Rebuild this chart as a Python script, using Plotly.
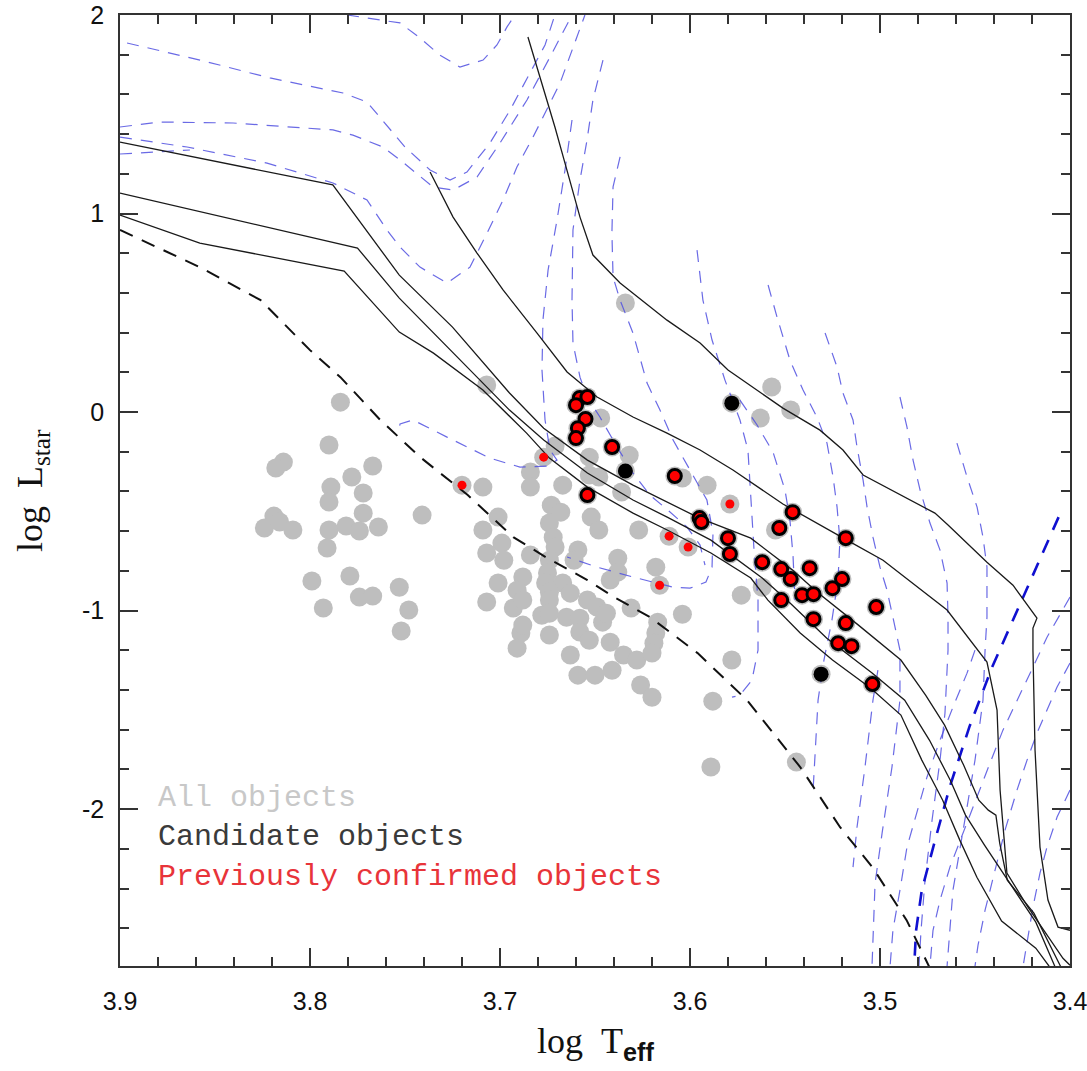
import plotly.graph_objects as go

# ---------------- data (log Teff, log L) ----------------
gray_x = [3.784, 3.790, 3.814, 3.818, 3.767, 3.778, 3.789, 3.772, 3.790, 3.772, 3.819, 3.824, 3.816, 3.809,
          3.790, 3.781, 3.774, 3.764, 3.791, 3.799, 3.779, 3.774, 3.767, 3.793, 3.753, 3.748, 3.752, 3.741,
          3.707, 3.709, 3.671, 3.684, 3.684, 3.701, 3.709, 3.699, 3.707, 3.698, 3.684, 3.688, 3.691, 3.701,
          3.707, 3.693, 3.688, 3.689, 3.691, 3.688,
          3.667, 3.653, 3.653, 3.648, 3.647, 3.673, 3.668, 3.674, 3.672, 3.671, 3.674, 3.675, 3.676, 3.667,
          3.663, 3.674, 3.674, 3.678, 3.674, 3.665, 3.658, 3.646, 3.654, 3.649, 3.644, 3.674, 3.658, 3.653,
          3.642, 3.663, 3.659, 3.650, 3.641, 3.652, 3.648, 3.659, 3.661, 3.638, 3.638, 3.642, 3.636, 3.627,
          3.618, 3.631, 3.617, 3.618, 3.619, 3.635, 3.628, 3.620, 3.626, 3.620, 3.604,
          3.634, 3.632, 3.604, 3.591, 3.557, 3.563, 3.547, 3.573, 3.562, 3.555, 3.578, 3.588, 3.589, 3.544]
gray_y = [0.050, -0.166, -0.252, -0.282, -0.272, -0.327, -0.378, -0.408, -0.453, -0.509, -0.524, -0.584, -0.554, -0.594,
          -0.594, -0.574, -0.599, -0.579, -0.685, -0.851, -0.826, -0.932, -0.927, -0.987, -0.882, -0.997, -1.103, -0.519,
          0.136, -0.378, -0.171, -0.302, -0.378, -0.529, -0.594, -0.660, -0.710, -0.746, -0.720, -0.831, -0.897, -0.861,
          -0.957, -0.987, -0.947, -1.113, -1.189, -1.073,
          -0.368, -0.227, -0.317, -0.327, -0.030, -0.469, -0.504, -0.559, -0.630, -0.680, -0.746, -0.811, -0.861, -0.861,
          -0.912, -0.907, -0.947, -1.023, -1.013, -1.033, -1.038, -1.058, -0.947, -0.982, -1.013, -1.123, -1.108, -1.149,
          -1.159, -1.224, -1.325, -1.325, -1.300, -0.529, -0.594, -0.695, -0.746, -0.736, -0.806, -0.846, -0.403, -0.594,
          -0.781, -0.987, -1.058, -1.113, -1.164, -1.224, -1.249, -1.214, -1.375, -1.436, -1.018,
          0.549, -0.217, -0.332, -0.368, 0.126, -0.030, 0.010, -0.922, -0.882, -0.594, -1.249, -1.456, -1.788, -1.763]

both_x = [3.658, 3.654, 3.660, 3.655, 3.659, 3.660, 3.641, 3.608, 3.654, 3.595, 3.594, 3.546, 3.553, 3.580,
          3.579, 3.518, 3.562, 3.552, 3.547, 3.537, 3.520, 3.525, 3.541, 3.535, 3.552, 3.502, 3.535, 3.518,
          3.522, 3.515, 3.504]
both_y = [0.071, 0.076, 0.035, -0.035, -0.081, -0.131, -0.176, -0.322, -0.418, -0.534, -0.554, -0.504, -0.584, -0.635,
          -0.715, -0.635, -0.756, -0.791, -0.841, -0.786, -0.841, -0.887, -0.922, -0.917, -0.947, -0.982, -1.043, -1.063,
          -1.164, -1.179, -1.370]

cand_x = [3.634, 3.578, 3.531]
cand_y = [-0.297, 0.045, -1.320]

conf_x = [3.677, 3.720, 3.579, 3.611, 3.601, 3.616]
conf_y = [-0.227, -0.368, -0.463, -0.625, -0.680, -0.872]

# isochrones (solid)
isoA_x = [3.6853, 3.6805, 3.6711, 3.6658, 3.6579, 3.6511, 3.6368, 3.6121, 3.5947, 3.5800, 3.5511, 3.5316, 3.5195,
          3.5089, 3.4711, 3.4642, 3.4437, 3.4300, 3.4174, 3.4195, 3.4195, 3.4184, 3.4158, 3.4116, 3.4063, 3.400]
isoA_y = [1.889, 1.738, 1.436, 1.254, 0.982, 0.791, 0.650, 0.463, 0.348, 0.212, 0.020, -0.091, -0.191,
          -0.317, -0.509, -0.569, -0.756, -0.872, -1.038, -1.088, -1.199, -1.703, -2.191, -2.458, -2.594, -2.610]
isoB_x = [3.7368, 3.7247, 3.7121, 3.6984, 3.6805, 3.6647, 3.6489, 3.6300, 3.6121, 3.5947, 3.5774, 3.5511, 3.5174,
          3.4984, 3.4647, 3.4437, 3.4384, 3.4368, 3.4332, 3.4221, 3.4037, 3.400]
isoB_y = [1.209, 0.982, 0.801, 0.615, 0.398, 0.202, 0.076, -0.025, -0.106, -0.191, -0.292, -0.463, -0.645,
          -0.746, -0.997, -1.259, -1.501, -1.904, -2.322, -2.494, -2.751, -2.786]
isoC_x = [3.900, 3.788, 3.753, 3.725, 3.695, 3.677, 3.654, 3.630, 3.595, 3.568, 3.546, 3.533, 3.512, 3.489,
          3.476, 3.466, 3.456, 3.448, 3.443, 3.439, 3.437, 3.433, 3.419, 3.405]
isoC_y = [1.360, 1.144, 0.690, 0.428, 0.096, -0.081, -0.242, -0.368, -0.534, -0.635, -0.796, -0.907, -1.068, -1.249,
          -1.426, -1.577, -1.778, -1.955, -2.005, -2.030, -2.171, -2.358, -2.524, -2.791]
isoD_x = [3.900, 3.775, 3.753, 3.735, 3.717, 3.695, 3.677, 3.654, 3.630, 3.612, 3.589, 3.579, 3.562, 3.549,
          3.528, 3.504, 3.487, 3.474, 3.463, 3.455, 3.445, 3.431, 3.418, 3.408]
isoD_y = [1.103, 0.826, 0.574, 0.398, 0.227, 0.010, -0.141, -0.307, -0.443, -0.529, -0.645, -0.715, -0.836, -0.947,
          -1.139, -1.315, -1.451, -1.652, -1.854, -2.030, -2.181, -2.383, -2.569, -2.791]
isoE_x = [3.900, 3.858, 3.782, 3.753, 3.735, 3.709, 3.686, 3.674, 3.654, 3.630, 3.612, 3.589, 3.568, 3.559,
          3.542, 3.525, 3.505, 3.489, 3.478, 3.467, 3.458, 3.449, 3.436, 3.418, 3.411]
isoE_y = [0.992, 0.851, 0.710, 0.403, 0.297, 0.111, -0.106, -0.232, -0.378, -0.509, -0.594, -0.710, -0.836, -0.947,
          -1.113, -1.249, -1.390, -1.526, -1.753, -1.955, -2.156, -2.343, -2.564, -2.700, -2.791]

# ZAMS (black dashed)
zams_x = [3.900, 3.858, 3.826, 3.800, 3.784, 3.763, 3.742, 3.717, 3.693, 3.675, 3.654, 3.640, 3.621, 3.596,
          3.570, 3.542, 3.521, 3.504, 3.486, 3.474]
zams_y = [0.917, 0.730, 0.564, 0.312, 0.176, -0.040, -0.227, -0.418, -0.630, -0.736, -0.846, -0.932, -1.033, -1.214,
          -1.451, -1.788, -2.091, -2.292, -2.559, -2.796]

# thick blue dashed line
thick_x = [3.406, 3.426, 3.441, 3.453, 3.463, 3.471, 3.478, 3.481, 3.482]
thick_y = [-0.529, -0.962, -1.285, -1.587, -1.879, -2.156, -2.408, -2.610, -2.791]

# evolutionary tracks (blue dashed)
tracks = {
    "U": ([3.7805, 3.7526, 3.7421, 3.7316, 3.7211, 3.7089, 3.7016, 3.6963, 3.6921],
          [2.000, 1.960, 1.884, 1.798, 1.738, 1.773, 1.849, 1.940, 2.000]),
    "T1": ([3.8963, 3.8579, 3.8211, 3.7826, 3.7700, 3.7589, 3.7500, 3.7368, 3.7263, 3.7174, 3.7053, 3.6947, 3.6842, 3.6763, 3.6711],
           [1.859, 1.773, 1.683, 1.607, 1.562, 1.436, 1.335, 1.219, 1.169, 1.209, 1.355, 1.521, 1.708, 1.849, 2.000]),
    "T2": ([3.9000, 3.8789, 3.8405, 3.7879, 3.7774, 3.7616, 3.7526, 3.7353, 3.7247, 3.7121, 3.7000, 3.6858, 3.6737, 3.6621],
           [1.436, 1.461, 1.456, 1.421, 1.395, 1.335, 1.270, 1.134, 1.118, 1.184, 1.355, 1.572, 1.788, 2.000]),
    "T3": ([3.9000, 3.8647, 3.8226, 3.7879, 3.7700, 3.7595, 3.7526, 3.7421, 3.7279, 3.7158, 3.7068, 3.6984, 3.6911, 3.6826, 3.6684, 3.6589, 3.6553],
           [1.385, 1.335, 1.254, 1.154, 1.068, 0.917, 0.831, 0.730, 0.650, 0.730, 0.902, 1.068, 1.234, 1.385, 1.657, 1.899, 2.000]),
    "T3b": ([3.900, 3.8789, 3.8632], [1.300, 1.310, 1.320]),
    "T4": ([3.6621, 3.6658, 3.6700, 3.6747, 3.6774, 3.6779, 3.6763, 3.6737, 3.6700, 3.6753, 3.6895, 3.7053, 3.7279, 3.7458, 3.7526, 3.7537],
           [1.471, 1.219, 0.967, 0.715, 0.463, 0.212, -0.040, -0.191, -0.242, -0.272, -0.277, -0.232, -0.126, -0.040, -0.060, -0.101]),
    "T5": ([3.6458, 3.6511, 3.6542, 3.6579, 3.6616, 3.6621, 3.6616, 3.6579, 3.6542, 3.6474, 3.6384, 3.6300, 3.6211, 3.6116, 3.6016, 3.5947, 3.5921],
           [1.773, 1.572, 1.370, 1.169, 0.917, 0.564, 0.348, 0.176, 0.076, -0.025, -0.176, -0.307, -0.418, -0.494, -0.579, -0.670, -0.771]),
    "T6": ([3.6368, 3.6405, 3.6411, 3.6405, 3.6368, 3.6300, 3.6226, 3.6158, 3.6089, 3.6000, 3.5911, 3.5879, 3.5884, 3.5916, 3.6000, 3.6089, 3.6300, 3.6489, 3.6647],
           [1.285, 1.134, 0.902, 0.680, 0.564, 0.398, 0.146, 0.010, -0.141, -0.292, -0.443, -0.610, -0.781, -0.856, -0.887, -0.882, -0.831, -0.781, -0.730]),
    "T7": ([3.5963, 3.5932, 3.5884, 3.5816, 3.5737, 3.5695, 3.5679, 3.5663, 3.5642, 3.5642, 3.5674, 3.5737, 3.5779],
           [0.816, 0.564, 0.363, 0.161, -0.040, -0.191, -0.443, -0.695, -0.947, -1.199, -1.350, -1.426, -1.436]),
    "T8": ([3.5589, 3.5542, 3.5474, 3.5405, 3.5332, 3.5279, 3.5247, 3.5226, 3.5211, 3.5221, 3.5253, 3.5295, 3.5326, 3.5342, 3.5353],
           [0.640, 0.479, 0.262, 0.111, -0.025, -0.156, -0.327, -0.479, -0.645, -0.846, -1.048, -1.249, -1.451, -1.703, -1.919]),
    "T9": ([3.5737, 3.5647, 3.5563, 3.5500, 3.5474, 3.5458, 3.5447],
           [0.060, -0.065, -0.202, -0.393, -0.544, -0.720, -0.947]),
    "T10": ([3.5289, 3.5226, 3.5195, 3.5142, 3.5121, 3.5089, 3.5068, 3.5037, 3.5000, 3.4963, 3.4932, 3.4895, 3.4895, 3.4937, 3.4989, 3.5026, 3.5042],
            [0.398, 0.227, 0.096, -0.040, -0.176, -0.343, -0.479, -0.630, -0.781, -0.897, -1.033, -1.199, -1.451, -1.788, -2.121, -2.373, -2.791]),
    "V1": ([3.5011, 3.5037, 3.5079, 3.5121, 3.5142], [-1.300, -1.451, -1.788, -2.091, -2.292]),
    "T11": ([3.4895, 3.4858, 3.4826, 3.4789, 3.4737, 3.4684, 3.4647, 3.4642, 3.4642, 3.4658, 3.4684, 3.4726, 3.4763, 3.4784, 3.4795],
            [0.076, -0.076, -0.242, -0.393, -0.559, -0.695, -0.861, -1.033, -1.199, -1.516, -1.753, -2.055, -2.358, -2.610, -2.791]),
    "T12": ([3.4595, 3.4542, 3.4489, 3.4458, 3.4437, 3.4437, 3.4447, 3.4458, 3.4500, 3.4563, 3.4616, 3.4647],
            [-0.156, -0.327, -0.479, -0.630, -0.781, -1.033, -1.199, -1.451, -1.753, -2.106, -2.408, -2.791]),
    "R1": ([3.4000, 3.4121, 3.4195, 3.4279, 3.4353, 3.4421, 3.4489, 3.4563, 3.4632, 3.4684, 3.4721, 3.4737],
           [-0.932, -1.134, -1.285, -1.451, -1.602, -1.768, -1.940, -2.121, -2.292, -2.458, -2.610, -2.791]),
    "R2": ([3.4000, 3.4068, 3.4121, 3.4174, 3.4226, 3.4279, 3.4342, 3.4395, 3.4447, 3.4484, 3.4500],
           [-1.264, -1.385, -1.501, -1.617, -1.753, -1.904, -2.106, -2.307, -2.509, -2.685, -2.791]),
    "R3": ([3.4000, 3.4068, 3.4121, 3.4158, 3.4195, 3.4226, 3.4247],
           [-1.904, -2.040, -2.191, -2.322, -2.494, -2.660, -2.791]),
    "R4": ([3.4500, 3.4542, 3.4616, 3.4684, 3.4753, 3.4805, 3.4858, 3.4895, 3.4932, 3.4947],
           [-1.199, -1.315, -1.486, -1.652, -1.839, -2.020, -2.191, -2.408, -2.610, -2.791]),
}

x_ticks = [3.9, 3.8, 3.7, 3.6, 3.5, 3.4]
y_ticks = [-2, -1, 0, 1, 2]
legend_labels = ["All objects", "Candidate objects", "Previously confirmed objects"]
legend_colors = ["#c8c8c8", "#3a3a3a", "#e8343a"]
legend_y = [-1.945, -2.141, -2.343]

# ---------------- figure ----------------
fig = go.Figure()

fig.add_trace(go.Scatter(x=gray_x + both_x + cand_x + conf_x, y=gray_y + both_y + cand_y + conf_y,
                         mode="markers", marker=dict(size=19, color="#bebebe"), hoverinfo="skip"))

for name, (tx, ty) in tracks.items():
    fig.add_trace(go.Scatter(x=tx, y=ty, mode="lines",
                             line=dict(color="rgba(80,80,225,0.85)", width=1.2, dash="12px,9px"),
                             hoverinfo="skip"))

fig.add_trace(go.Scatter(x=thick_x, y=thick_y, mode="lines",
                         line=dict(color="#1010d0", width=2.6, dash="14px,11px"), hoverinfo="skip"))

for ix, iy in [(isoA_x, isoA_y), (isoB_x, isoB_y), (isoC_x, isoC_y), (isoD_x, isoD_y), (isoE_x, isoE_y)]:
    fig.add_trace(go.Scatter(x=ix, y=iy, mode="lines", line=dict(color="#1a1a1a", width=1.3),
                             hoverinfo="skip"))

fig.add_trace(go.Scatter(x=zams_x, y=zams_y, mode="lines",
                         line=dict(color="#111111", width=2.0, dash="14px,10px"), hoverinfo="skip"))

fig.add_trace(go.Scatter(x=both_x, y=both_y, mode="markers",
                         marker=dict(size=13, color="#ff0000", line=dict(color="#000000", width=3)),
                         hoverinfo="skip"))
fig.add_trace(go.Scatter(x=cand_x, y=cand_y, mode="markers",
                         marker=dict(size=15, color="#000000"), hoverinfo="skip"))
fig.add_trace(go.Scatter(x=conf_x, y=conf_y, mode="markers",
                         marker=dict(size=9, color="#ff0000"), hoverinfo="skip"))

for lab, col, ly in zip(legend_labels, legend_colors, legend_y):
    fig.add_annotation(x=3.881, y=ly, xref="x", yref="y", text=lab, showarrow=False,
                       xanchor="left", yanchor="middle",
                       font=dict(family="Liberation Mono, Courier New, monospace", size=30, color=col))

# axis titles
fig.add_annotation(x=0.5, y=-0.082, xref="paper", yref="paper", showarrow=False,
                   xanchor="center", yanchor="middle",
                   text="log&nbsp;&nbsp;T<sub><b><span style='font-family:Liberation Sans'>eff</span></b></sub>",
                   font=dict(family="Liberation Serif, Times New Roman, serif", size=36, color="#111111"))
fig.add_annotation(x=-0.092, y=0.5, xref="paper", yref="paper", showarrow=False, textangle=-90,
                   xanchor="center", yanchor="middle",
                   text="log&nbsp;&nbsp;L<sub>star</sub>",
                   font=dict(family="Liberation Serif, Times New Roman, serif", size=36, color="#111111"))

axis_common = dict(showgrid=False, zeroline=False, showline=True, linecolor="#333333", linewidth=1.5,
                   mirror="ticks", ticks="inside", tickcolor="#333333", tickwidth=1.5, ticklen=18,
                   automargin=False, ticklabeloverflow="allow",
                   tickfont=dict(family="Liberation Sans, Arial, sans-serif", size=25, color="#111111"))

fig.update_xaxes(range=[3.9, 3.4], autorange=False, tickvals=x_ticks,
                 ticktext=[f"{v:.1f}" for v in x_ticks],
                 minor=dict(ticks="inside", ticklen=9, dtick=0.02, tick0=3.4, tickcolor="#333333", tickwidth=1.5),
                 ticklabelstandoff=12,
                 **axis_common)
fig.update_yaxes(range=[-2.79, 2.0], autorange=False, tickvals=y_ticks,
                 ticktext=[str(v) for v in y_ticks],
                 minor=dict(ticks="inside", ticklen=9, dtick=0.2, tick0=0, tickcolor="#333333", tickwidth=1.5),
                 ticklabelstandoff=9,
                 **axis_common)

fig.update_layout(width=1087, height=1071, margin=dict(l=120, r=17, t=15, b=105),
                  paper_bgcolor="white", plot_bgcolor="white", showlegend=False)

fig.write_html("out.html", config={"displayModeBar": False},
               post_script="document.body.style.margin='0px';document.body.style.padding='0px';"
                           "document.body.style.overflow='hidden';")
